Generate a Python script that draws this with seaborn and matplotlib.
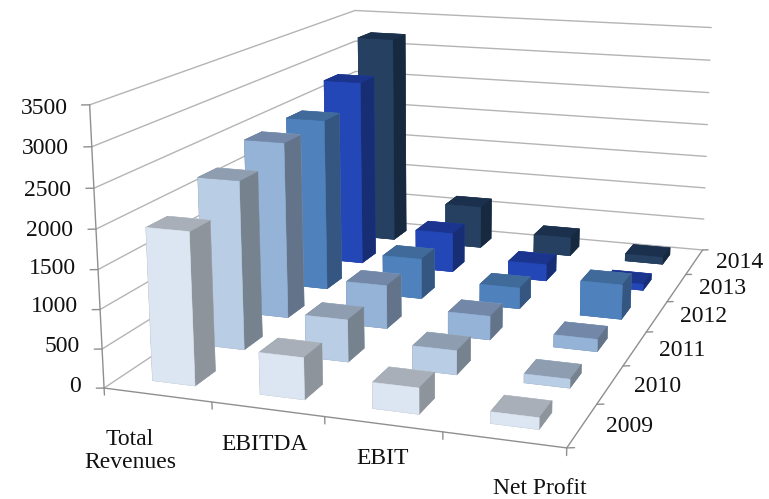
import numpy as np
import matplotlib
matplotlib.use("Agg")
import matplotlib.pyplot as plt
import seaborn as sns

categories = ["Total\nRevenues", "EBITDA", "EBIT", "Net Profit"]
years = ["2009", "2010", "2011", "2012", "2013", "2014"]
total_revenues = [1950, 2250, 2450, 2480, 2780, 3220]
ebitda = [530, 560, 600, 580, 590, 650]
ebit = [325, 315, 325, 300, 245, 285]
net_profit = [143, 115, 167, 490, 90, 108]
z_ticks = [0, 500, 1000, 1500, 2000, 2500, 3000, 3500]
front_colors = ["#DCE6F2", "#B9CDE5", "#95B3D7", "#4F81BD", "#2447B8", "#254061"]
top_colors = ["#A8AFB8", "#8F9DB0", "#7388A8", "#3F6A9A", "#1B358F", "#1B304C"]
side_colors = ["#8D949B", "#76838F", "#63738A", "#345680", "#172E75", "#17293F"]

sns.set_theme(style="white")
plt.rcParams["font.family"] = ["Liberation Serif", "DejaVu Serif"]

W, H = 769, 499
fig = plt.figure(figsize=(W / 100, H / 100), dpi=100)
ax = fig.add_axes([0, 0, 1, 1], projection="3d")
ax.computed_zorder = False
ax.set_proj_type("persp", focal_length=0.4073)
ax.view_init(elev=13.921, azim=-71.219)
ax.set_xlim(0, 4); ax.set_ylim(0, 6); ax.set_zlim(0, 3500)
ax.set_box_aspect((1.1788, 1.7059, 0.7124))
ax.set_axis_off()

# size and place the axes box so the view-to-pixel mapping matches the reference layout
px_per_unit, cx, cy = 4144.36, 440.95, H - 188.02
S, x0, y0 = 800.0, cx - 400, cy - 400
for _ in range(4):
    ax.set_position([x0 / W, y0 / H, S / W, S / H])
    ax.apply_aspect()
    p0, p1 = ax.transData.transform([(0, 0), (1, 0)])
    k = px_per_unit / (p1[0] - p0[0])
    x0 = cx - (p0[0] - x0) * k
    y0 = cy - (p0[1] - y0) * k
    S *= k
ax.set_position([x0 / W, y0 / H, S / W, S / H])

grid, axis_c = "#b4b4b4", "#8f8f8f"
for z in z_ticks:
    ax.plot([0, 0, 4], [0, 6, 6], [z, z, z], color=grid, lw=1.0, zorder=1)
    ax.plot([0, -0.06], [0, -0.025], [z, z], color=axis_c, lw=1.0, zorder=2)
ax.plot([0, 0], [0, 0], [0, 3500], color=axis_c, lw=1.0, zorder=2)
ax.plot([0, 4, 4], [0, 0, 6], [0, 0, 0], color=axis_c, lw=1.0, zorder=2)
for i in range(5):
    ax.plot([i, i], [0, 0], [0, -90], color=axis_c, lw=1.0, zorder=2)
for j in range(7):
    ax.plot([4, 4.055], [j, j + 0.025], [0, 0], color=axis_c, lw=1.0, zorder=2)

series = [total_revenues, ebitda, ebit, net_profit]
w, gap = 0.4, 0.3
order = 10
for j in range(5, -1, -1):
    for i in range(4):
        cols = [top_colors[j], top_colors[j], front_colors[j], front_colors[j], side_colors[j], side_colors[j]]
        ax.bar3d(i + gap, j + gap, 0, w, w, series[i][j], shade=False, zorder=order,
                 color=cols, edgecolor=cols, linewidth=0.4)
        order += 1

def label(x, y, s, ha="center"):
    fig.text(x / W, 1 - y / H, s, ha=ha, va="center", fontsize=17, color="#111111", linespacing=1.1)

z_right = [81, 80, 78, 76, 73, 71, 69, 68]
z_y = [387, 347, 307, 268, 230, 191, 149, 108]
for t, x, y in zip(z_ticks, z_right, z_y):
    label(x, y, str(t), ha="right")
for c, (x, y) in zip(categories, [(130, 451), (265, 445), (383, 458), (540, 488)]):
    label(x, y, c)
year_pos = [(629.5, 427), (658, 386), (682, 350), (704, 317), (723, 289), (740, 263)]
for c, (x, y) in zip(years, year_pos):
    label(x, y, c)

fig.savefig("out.png", dpi=100)
